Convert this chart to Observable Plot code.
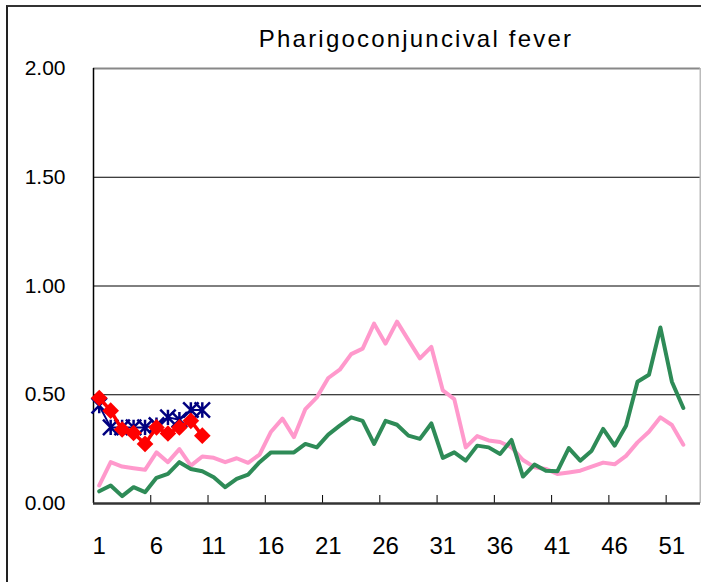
<!DOCTYPE html>
<html>
<head>
<meta charset="utf-8">
<script src="https://cdn.jsdelivr.net/npm/d3@7"></script>
<script src="https://cdn.jsdelivr.net/npm/@observablehq/plot@0.6"></script>
<style>
  html, body { margin: 0; padding: 0; background: #fff; }
  #wrap { position: relative; width: 701px; height: 582px; overflow: hidden; }
  #frame { position: absolute; left: 6px; top: 5px; width: 720px; height: 620px; border-left: 2px solid #222; border-top: 2px solid #333; pointer-events: none; }
</style>
</head>
<body>
<div id="wrap"><div id="frame"></div></div>
<script>
const title = "Pharigoconjuncival fever";
const weeks = d3.range(1, 53);
const xTickLabels = [1, 6, 11, 16, 21, 26, 31, 36, 41, 46, 51];
const yTicks = [0, 0.5, 1, 1.5, 2];

const pinkValues = [0.083,0.19,0.17,0.162,0.155,0.235,0.19,0.25,0.174,0.216,0.21,0.19,0.208,0.187,0.225,0.33,0.39,0.305,0.434,0.488,0.577,0.615,0.687,0.712,0.827,0.735,0.836,0.751,0.667,0.72,0.52,0.48,0.258,0.31,0.29,0.283,0.258,0.2,0.167,0.159,0.136,0.143,0.151,0.17,0.188,0.18,0.219,0.281,0.33,0.396,0.361,0.27];
const greenValues = [0.056,0.083,0.034,0.075,0.052,0.118,0.136,0.19,0.159,0.148,0.121,0.075,0.113,0.133,0.19,0.235,0.235,0.235,0.274,0.258,0.317,0.358,0.396,0.38,0.274,0.38,0.362,0.312,0.297,0.368,0.21,0.235,0.197,0.266,0.258,0.228,0.292,0.124,0.179,0.151,0.148,0.255,0.197,0.243,0.343,0.266,0.358,0.56,0.592,0.809,0.56,0.439];
const blueValues = [0.45,0.35,0.35,0.35,0.35,0.36,0.396,0.385,0.43,0.43];
const redValues = [0.485,0.427,0.34,0.324,0.274,0.35,0.322,0.35,0.38,0.312];

const toRows = vals => vals.map((v, i) => ({week: i + 1, value: v}));
const pink = toRows(pinkValues), green = toRows(greenValues), blue = toRows(blueValues), red = toRows(redValues);

const starSymbol = {
  draw(ctx, size) {
    const r = Math.sqrt(size) * 0.62;
    ctx.moveTo(-r, -r); ctx.lineTo(r, r);
    ctx.moveTo(-r, r); ctx.lineTo(r, -r);
    ctx.moveTo(0, -r); ctx.lineTo(0, r);
  }
};

const chart = Plot.plot({
  width: 701,
  height: 582,
  marginLeft: 93,
  marginRight: 1,
  marginTop: 68,
  marginBottom: 79,
  style: {fontFamily: "Liberation Sans, sans-serif", fontSize: "21px", color: "#000", background: "transparent", overflow: "visible"},
  x: {domain: [0.5, 53.5], type: "linear", label: null},
  y: {domain: [0, 2], label: null},
  marks: [
    Plot.ruleY([0.5, 1, 1.5], {stroke: "#000", strokeWidth: 1}),
    Plot.ruleY([2], {stroke: "#888", strokeWidth: 2}),
    Plot.ruleX([53.5], {stroke: "#bbb", strokeWidth: 2}),
    Plot.ruleX([0.5], {stroke: "#000", strokeWidth: 1.5}),
    Plot.ruleX(xTickLabels.slice(1).map(d => d - 0.5), {stroke: "#000", strokeWidth: 1, insetTop: 427}),
    Plot.ruleY([0], {stroke: "#333", strokeWidth: 2.5}),
    Plot.axisY({ticks: yTicks, tickFormat: d3.format(".2f"), tickSize: 0, tickPadding: 28, fontSize: 21, label: null}),
    Plot.axisX({ticks: xTickLabels, tickFormat: d => String(d), tickSize: 0, tickPadding: 33, fontSize: 24, fontFamily: "Liberation Sans Narrow, Liberation Sans, sans-serif", label: null}),
    Plot.line(pink, {x: "week", y: "value", stroke: "#FF99CC", strokeWidth: 4}),
    Plot.line(green, {x: "week", y: "value", stroke: "#2E8B57", strokeWidth: 4}),
    Plot.line(blue, {x: "week", y: "value", stroke: "#000080", strokeWidth: 2}),
    Plot.dot(blue, {x: "week", y: "value", symbol: starSymbol, r: 7, stroke: "#000080", strokeWidth: 2.5, fill: "none"}),
    Plot.line(red, {x: "week", y: "value", stroke: "#FF0000", strokeWidth: 3.5}),
    Plot.dot(red, {x: "week", y: "value", symbol: "diamond2", r: 7.5, fill: "#FF0000", stroke: "none"}),
    Plot.text([title], {text: d => d, frameAnchor: "top", dx: 19, dy: -39, fontSize: 24, fill: "#000"})
  ]
});
chart.querySelectorAll("text").forEach(t => { if (t.textContent === title) t.setAttribute("letter-spacing", "2.2"); });
document.getElementById("wrap").prepend(chart);
</script>
</body>
</html>
